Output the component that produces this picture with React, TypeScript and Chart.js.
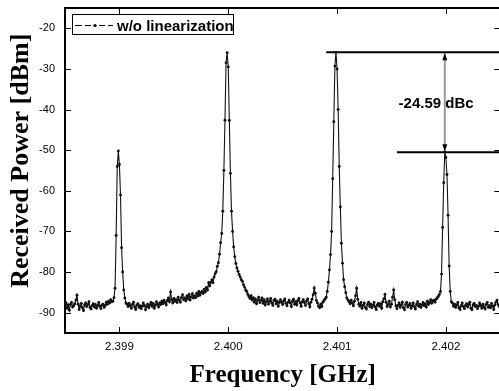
import React, { useEffect, useRef } from "react";
import { Chart, registerables } from "chart.js";

Chart.register(...registerables);

// Sampling grid of the spectrum analyser trace
const FREQ_START = 2.3985; // GHz
const FREQ_STEP = 0.00001; // GHz

// Received power [dBm], one value per sample
const POWER_DBM = [
  /* 0 */ -88.2, -87.6, -88.9, -88.1, -89.4, -88.0, -87.5, -88.6, -88.3, -87.8,
  /* 10 */ -86.9, -85.7, -87.9, -89.2, -88.4, -87.7, -88.8, -89.5, -88.1, -87.6,
  /* 20 */ -88.5, -88.0, -87.3, -88.7, -89.1, -88.2, -87.8, -88.6, -88.0, -88.9,
  /* 30 */ -88.3, -87.5, -88.4, -89.0, -88.1, -87.9, -88.7, -88.2, -87.4, -87.9,
  /* 40 */ -87.2, -87.6, -86.8, -87.3, -87.2, -86.3, -84.0, -71.0, -54.0, -50.2,
  /* 50 */ -53.5, -61.0, -74.0, -80.0, -84.4, -86.4, -87.6, -87.9, -88.5, -87.7,
  /* 60 */ -88.3, -88.9, -88.0, -87.4, -88.6, -89.2, -88.1, -87.8, -88.7, -88.3,
  /* 70 */ -89.0, -88.4, -87.6, -88.2, -89.3, -88.5, -87.9, -88.8, -88.1, -87.5,
  /* 80 */ -88.4, -87.7, -88.9, -88.2, -87.3, -87.9, -88.6, -87.6, -88.0, -87.2,
  /* 90 */ -87.8, -86.9, -87.5, -88.1, -87.0, -86.4, -87.3, -84.9, -86.8, -87.6,
  /* 100 */ -86.5, -87.2, -86.8, -87.5, -86.2, -86.9, -87.4, -86.3, -85.6, -86.8,
  /* 110 */ -86.4, -87.1, -85.9, -86.6, -85.5, -86.9, -86.1, -85.3, -86.4, -85.8,
  /* 120 */ -86.3, -85.2, -85.9, -84.8, -85.7, -85.1, -84.8, -85.3, -84.2, -84.9,
  /* 130 */ -83.8, -84.4, -82.6, -83.4, -82.5, -81.9, -82.6, -81.2, -80.4, -79.9,
  /* 140 */ -78.6, -77.7, -75.6, -72.8, -70.5, -65.0, -55.0, -42.6, -28.5, -26.0,
  /* 150 */ -29.5, -42.7, -55.7, -65.0, -70.0, -73.8, -76.2, -77.9, -79.0, -79.8,
  /* 160 */ -80.6, -81.2, -81.9, -82.3, -83.1, -83.7, -84.4, -84.8, -85.5, -86.0,
  /* 170 */ -86.5, -85.8, -86.9, -86.3, -87.4, -86.6, -87.8, -86.9, -86.2, -87.5,
  /* 180 */ -87.0, -86.4, -87.7, -86.8, -88.1, -87.3, -86.6, -87.9, -87.2, -86.5,
  /* 190 */ -87.6, -88.2, -87.0, -86.7, -87.8, -87.2, -88.4, -87.5, -86.8, -87.4,
  /* 200 */ -88.0, -87.1, -86.6, -87.7, -88.3, -87.4, -86.9, -87.6, -88.5, -87.2,
  /* 210 */ -86.7, -87.9, -87.3, -88.1, -87.0, -86.5, -87.6, -88.4, -87.3, -86.8,
  /* 220 */ -87.5, -88.2, -87.1, -86.6, -87.8, -88.6, -87.4, -86.7, -85.6, -83.9,
  /* 230 */ -85.2, -87.0, -87.6, -88.4, -88.8, -87.9, -88.5, -87.4, -87.0, -86.6,
  /* 240 */ -86.2, -84.8, -82.5, -79.5, -75.7, -70.0, -57.0, -43.0, -29.3, -25.9,
  /* 250 */ -30.0, -40.0, -54.0, -64.0, -72.9, -77.8, -81.9, -83.6, -85.1, -86.4,
  /* 260 */ -86.9, -87.3, -87.8, -86.9, -87.6, -88.3, -87.2, -85.8, -84.0, -86.7,
  /* 270 */ -87.9, -88.4, -87.5, -88.9, -88.2, -87.6, -88.7, -89.1, -88.0, -87.4,
  /* 280 */ -88.5, -87.9, -88.8, -88.2, -87.5, -88.6, -89.2, -88.1, -87.7, -88.4,
  /* 290 */ -87.8, -88.9, -87.3, -86.6, -85.5, -87.4, -88.5, -88.0, -87.2, -88.6,
  /* 300 */ -87.9, -86.2, -84.4, -86.8, -88.3, -89.0, -88.2, -87.6, -88.7, -88.1,
  /* 310 */ -87.4, -88.8, -89.3, -88.0, -87.5, -88.6, -88.2, -87.7, -88.9, -88.3,
  /* 320 */ -87.6, -88.5, -89.1, -88.0, -87.3, -88.4, -87.9, -88.7, -88.1, -87.5,
  /* 330 */ -88.3, -87.8, -88.6, -87.2, -88.0, -87.5, -86.8, -87.7, -87.1, -86.9,
  /* 340 */ -87.4, -86.7, -86.4, -86.0, -85.5, -84.8, -80.5, -69.0, -58.0, -50.49,
  /* 350 */ -51.8, -56.0, -66.0, -78.5, -84.8, -87.3, -87.6, -88.4, -87.9, -88.7,
  /* 360 */ -88.1, -87.5, -88.8, -89.2, -88.3, -87.6, -88.5, -89.0, -88.2, -87.8,
  /* 370 */ -88.6, -88.0, -87.4, -88.9, -89.3, -88.1, -87.7, -88.5, -88.2, -89.0,
  /* 380 */ -88.4, -87.6, -88.3, -88.9, -87.9, -88.6, -89.1, -88.0, -87.5, -88.7,
  /* 390 */ -88.2, -88.8, -87.7, -88.4, -89.2, -88.1, -87.4, -86.9, -88.0, -88.5,
  /* 400 */ -88.1,
];

const SERIES_LABEL = "w/o linearization";

const X_RANGE = [2.3985, 2.4025];
const Y_RANGE = [-95, -15];
const X_TICKS = [2.399, 2.4, 2.401, 2.402];
const X_TICK_LABELS = ["2.399", "2.400", "2.401", "2.402"];
const Y_TICKS = [-20, -30, -40, -50, -60, -70, -80, -90];
const Y_TICK_LABELS = ["-20", "-30", "-40", "-50", "-60", "-70", "-80", "-90"];

// Marker annotation (carrier level vs IMD level)
const MARKER_LEVELS = [-25.9, -50.49];
const MARKER_FROM = [2.4009, 2.40155];
const MARKER_TO = 2.4027;
const ARROW_FREQ = 2.40199;
const DBC_LABEL = "-24.59 dBc";
const DBC_POS = [2.40191, -38.6];

const X_TITLE = "Frequency [GHz]";
const Y_TITLE = "Received Power [dBm]";

const SANS = '"Liberation Sans", Arial, sans-serif';
const SERIF = '"Liberation Serif", "Times New Roman", serif';

const overlayPlugin = {
  id: "overlay",
  afterDraw(chart: any) {
    const { ctx, chartArea: a } = chart;
    const xs = chart.scales.x;
    const ys = chart.scales.y;
    const line = (x1: number, y1: number, x2: number, y2: number) => {
      ctx.beginPath();
      ctx.moveTo(x1, y1);
      ctx.lineTo(x2, y2);
      ctx.stroke();
    };
    ctx.save();
    ctx.strokeStyle = "#000";
    ctx.fillStyle = "#000";
    // frame (top and right)
    ctx.lineWidth = 2;
    ctx.beginPath();
    ctx.moveTo(a.left - 1, a.top);
    ctx.lineTo(a.right, a.top);
    ctx.lineTo(a.right, a.bottom);
    ctx.stroke();
    // inward ticks
    ctx.lineWidth = 1;
    xs.ticks.forEach((t: any) => {
      const px = Math.round(xs.getPixelForValue(t.value)) + 0.5;
      line(px, a.bottom, px, a.bottom - 6);
      line(px, a.top, px, a.top + 6);
    });
    ys.ticks.forEach((t: any) => {
      const py = Math.round(ys.getPixelForValue(t.value)) + 0.5;
      line(a.left, py, a.left + 6, py);
      line(a.right, py, a.right - 6, py);
    });
    // arrow heads
    const ax = xs.getPixelForValue(ARROW_FREQ);
    const ay1 = ys.getPixelForValue(MARKER_LEVELS[0]);
    const ay2 = ys.getPixelForValue(MARKER_LEVELS[1]);
    ctx.beginPath();
    ctx.moveTo(ax, ay1 + 1);
    ctx.lineTo(ax - 2.5, ay1 + 8);
    ctx.lineTo(ax + 2.5, ay1 + 8);
    ctx.closePath();
    ctx.fill();
    ctx.beginPath();
    ctx.moveTo(ax, ay2 - 1);
    ctx.lineTo(ax - 2.5, ay2 - 8);
    ctx.lineTo(ax + 2.5, ay2 - 8);
    ctx.closePath();
    ctx.fill();
    // dBc label
    ctx.font = `bold 15px ${SANS}`;
    ctx.textAlign = "center";
    ctx.textBaseline = "middle";
    ctx.fillText(DBC_LABEL, xs.getPixelForValue(DBC_POS[0]), ys.getPixelForValue(DBC_POS[1]));
    // legend
    const lx = a.left + 7;
    const ly = a.top + 6;
    const lw = 161;
    const lh = 20;
    ctx.fillStyle = "#fff";
    ctx.fillRect(lx, ly, lw, lh);
    ctx.strokeStyle = "#000";
    ctx.lineWidth = 1;
    ctx.strokeRect(lx + 0.5, ly + 0.5, lw, lh);
    const my = ly + 11.5;
    [[3, 10], [13, 19], [27, 33], [36, 41]].forEach(([s, e]) => line(lx + s, my, lx + e, my));
    ctx.fillStyle = "#000";
    ctx.beginPath();
    ctx.arc(lx + 23, my, 1.6, 0, Math.PI * 2);
    ctx.fill();
    ctx.font = `bold 15px ${SANS}`;
    ctx.textAlign = "left";
    ctx.textBaseline = "alphabetic";
    ctx.fillText(chart.data.datasets[0].label, lx + 45, ly + 17);
    // y axis title
    ctx.save();
    ctx.translate(21, a.top + (a.bottom - a.top) * 0.47);
    ctx.rotate(-Math.PI / 2);
    ctx.font = `bold 26px ${SERIF}`;
    ctx.textAlign = "center";
    ctx.textBaseline = "middle";
    ctx.fillText(Y_TITLE, 0, 0);
    ctx.restore();
    ctx.restore();
  },
};

export default function App() {
  const ref = useRef<HTMLCanvasElement>(null);

  useEffect(() => {
    const points = POWER_DBM.map((p, i) => ({ x: FREQ_START + i * FREQ_STEP, y: p }));
    const markerSets = MARKER_LEVELS.map((lvl, k) => ({
      label: "marker" + k,
      data: [
        { x: MARKER_FROM[k], y: lvl },
        { x: MARKER_TO, y: lvl },
      ],
      borderColor: "#000",
      borderWidth: 2,
      pointRadius: 0,
    }));
    const chart = new Chart(ref.current as HTMLCanvasElement, {
      type: "line",
      data: {
        datasets: [
          {
            label: SERIES_LABEL,
            data: points,
            borderColor: "#111",
            borderWidth: 1.1,
            pointRadius: 1.45,
            pointBorderWidth: 0,
            pointBackgroundColor: "#111",
            tension: 0,
          },
          ...markerSets,
          {
            label: "arrow",
            data: [
              { x: ARROW_FREQ, y: MARKER_LEVELS[0] },
              { x: ARROW_FREQ, y: MARKER_LEVELS[1] },
            ],
            borderColor: "#9a9a9a",
            borderWidth: 2,
            pointRadius: 0,
          },
        ],
      },
      options: {
        responsive: false,
        animation: false,
        devicePixelRatio: 1,
        layout: { autoPadding: false, padding: { left: 0, top: 8, right: 1.7, bottom: 0 } },
        plugins: { legend: { display: false }, tooltip: { enabled: false } },
        scales: {
          x: {
            type: "linear",
            position: "bottom",
            min: X_RANGE[0],
            max: X_RANGE[1],
            afterBuildTicks: (s: any) => {
              s.ticks = X_TICKS.map((v) => ({ value: v }));
            },
            afterFit: (s: any) => {
              s.height = 58;
              s.paddingLeft = 0;
              s.paddingRight = 0;
              s.paddingTop = 0;
              s.paddingBottom = 0;
            },
            ticks: {
              callback: (_v: any, i: number) => X_TICK_LABELS[i],
              font: { family: SANS, size: 11.5 },
              color: "#000",
              padding: 7,
              maxRotation: 0,
              autoSkip: false,
            },
            grid: { display: false, drawTicks: false },
            border: { display: true, color: "#000", width: 2 },
            title: {
              display: true,
              text: X_TITLE,
              color: "#000",
              font: { family: SERIF, size: 25, weight: "bold" },
              padding: { top: 0, bottom: 0 },
            },
          },
          y: {
            type: "linear",
            min: Y_RANGE[0],
            max: Y_RANGE[1],
            afterBuildTicks: (s: any) => {
              s.ticks = Y_TICKS.map((v) => ({ value: v }));
            },
            afterFit: (s: any) => {
              s.width = 65;
              s.paddingLeft = 0;
              s.paddingRight = 0;
              s.paddingTop = 0;
              s.paddingBottom = 0;
            },
            ticks: {
              callback: (_v: any, i: number) => Y_TICK_LABELS[i],
              font: { family: SANS, size: 11 },
              color: "#000",
              padding: 10,
              autoSkip: false,
            },
            grid: { display: false, drawTicks: false },
            border: { display: true, color: "#000", width: 2 },
            title: { display: false },
          },
        },
      },
      plugins: [overlayPlugin],
    } as any);
    return () => chart.destroy();
  }, []);

  return (
    <div
      style={{
        position: "absolute",
        left: 0,
        top: 0,
        width: 499,
        height: 391,
        overflow: "hidden",
        background: "#fff",
      }}
    >
      <div style={{ width: 502, height: 391 }}>
        <canvas ref={ref} width={502} height={391} style={{ display: "block", width: 502, height: 391 }} />
      </div>
    </div>
  );
}
